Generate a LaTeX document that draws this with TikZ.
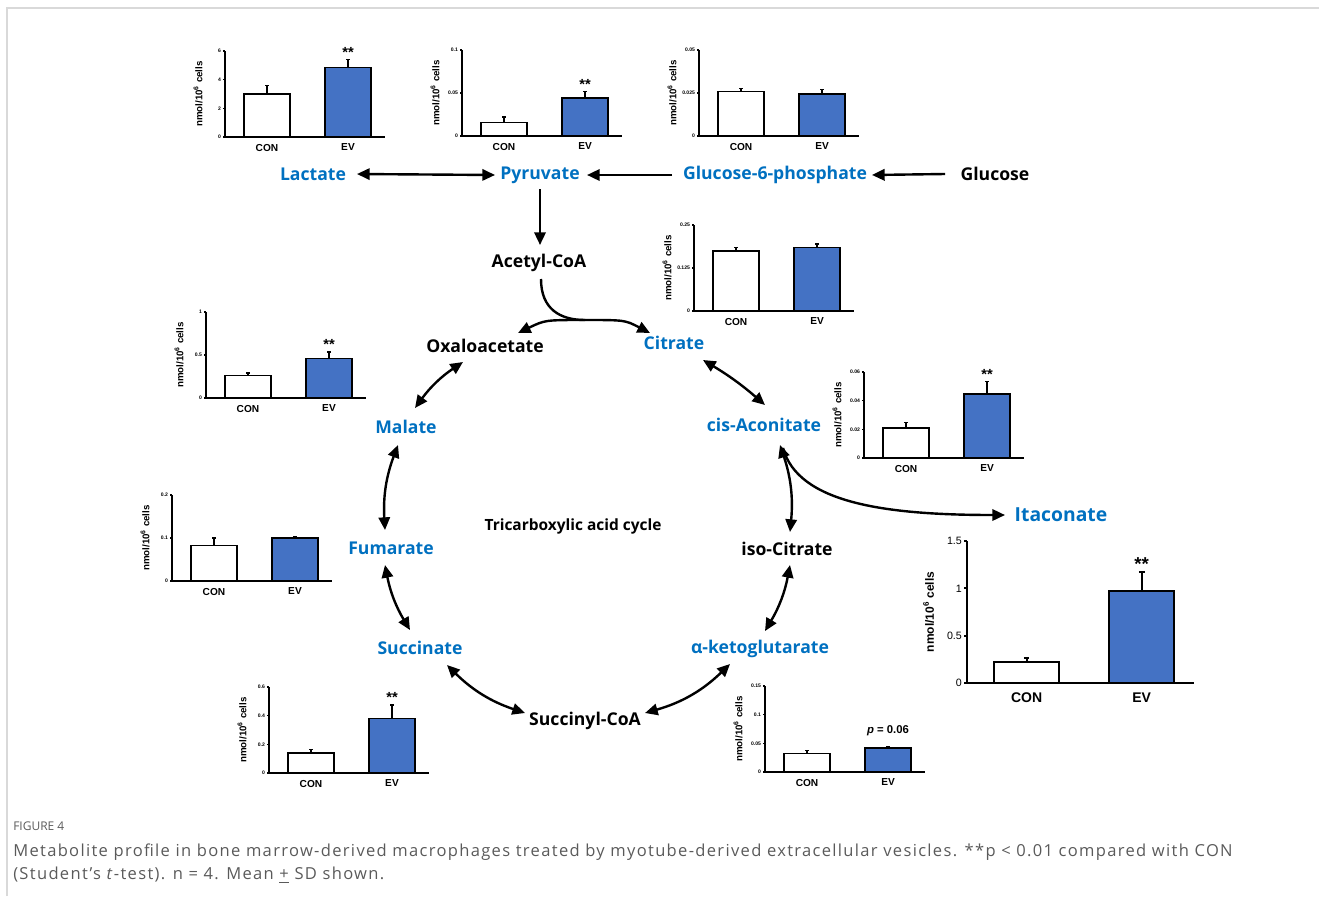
\documentclass[tikz,border=0pt]{standalone}
\usepackage{fontspec}
\setmainfont{Liberation Sans}
\newfontfamily\lblfont{Open Sans}
\newfontfamily\capfont[LetterSpace=8]{Open Sans}
\usetikzlibrary{arrows.meta,calc}

\definecolor{metblue}{HTML}{0070C0}
\definecolor{evblue}{HTML}{4472C4}
\definecolor{capgray}{HTML}{5A5A5A}

\tikzset{
  met/.style = {font=\lblfont\bfseries\fontsize{13.2}{15}\selectfont, text=metblue, inner sep=0pt},
  metk/.style = {met, text=black},
  flow/.style = {line width=1.8pt, >={Triangle[length=9.5pt,width=8.5pt]}, ->},
  flowboth/.style = {flow, <->},
  barbox/.style = {draw, line width=1.1pt, fill=white},
  evbox/.style = {barbox, fill=evblue},
  errline/.style = {line width=1pt},
  axisline/.style = {line width=1.1pt},
  ticklab/.style = {anchor=east, inner sep=1pt, font=\bfseries\fontsize{3.8}{4}\selectfont},
  ylab/.style = {rotate=90, inner sep=0pt, font=\bfseries\fontsize{7.3}{8}\selectfont},
  grplab/.style = {anchor=north, yshift=-5pt, inner sep=0pt, font=\bfseries\fontsize{7.6}{9}\selectfont},
  siglab/.style = {anchor=south, inner sep=1.5pt, font=\bfseries\fontsize{11}{12}\selectfont},
  bigchart/.style = {xscale=1.42, yscale=1.65,
    barbox/.append style={line width=1.5pt},
    axisline/.append style={line width=1.5pt},
    errline/.append style={line width=1.4pt},
    ticklab/.append style={font=\fontsize{8}{9}\selectfont},
    ylab/.append style={font=\bfseries\fontsize{9}{10}\selectfont},
    grplab/.append style={font=\bfseries\fontsize{10.5}{12}\selectfont, yshift=-2pt},
    siglab/.append style={font=\bfseries\fontsize{14}{15}\selectfont}},
}

% #1 extra options, #2 origin, #3 y max, #4 ticks, #5/#6 CON mean/sd, #7/#8 EV mean/sd, #9 mark
\newcommand{\barchart}[9][]{%
  \begin{scope}[shift={#2}, y={(0pt,64.5pt/#3)}, #1]
    \draw[barbox] (19,0) rectangle (65,#5);
    \draw[evbox] (100,0) rectangle (146,#7);
    \draw[errline] (42,#5) -- (42,{#5+#6}) (40,{#5+#6}) -- (44,{#5+#6});
    \draw[errline] (123,#7) -- (123,{#7+#8}) (121,{#7+#8}) -- (125,{#7+#8});
    \draw[axisline] (0,#3) -- (0,0) -- (160,0);
    \foreach \tk in {#4}
      \draw[axisline] (0,\tk) -- (-2,\tk) node[ticklab] {\tk};
    \node[ylab] at (-27,#3/2) {nmol/10\textsuperscript{6} cells};
    \node[grplab] at (42,0) {CON};
    \node[grplab] at (123,0) {EV};
    \node[siglab] at (123,{#7+#8}) {#9};
  \end{scope}}

\begin{document}
\begin{tikzpicture}[x=0.75pt, y=0.75pt]
  \useasboundingbox (0,0) rectangle (1319,-896);
  \draw[gray!30, line width=0.8pt] (7,-896) -- (7,-8) -- (1319,-8);

  % metabolites
  \node[met]  (lac)  at (313,-174) {Lactate};
  \node[met]  (pyr)  at (540,-175) {Pyruvate};
  \node[met]  (g6p)  at (775,-175) {Glucose-6-phosphate};
  \node[metk] (glc)  at (995,-174) {Glucose};
  \node[metk] (acoa) at (539,-263) {Acetyl-CoA};
  \node[metk] (oaa)  at (485,-346) {Oxaloacetate};
  \node[met]  (cit)  at (674,-343) {Citrate};
  \node[met]  (mal)  at (406,-427) {Malate};
  \node[met]  (cisa) at (764,-425) {cis-Aconitate};
  \node[metk, font=\lblfont\bfseries\fontsize{11.6}{14}\selectfont] (tca) at (573,-526) {Tricarboxylic acid cycle};
  \node[met, font=\lblfont\bfseries\fontsize{14.5}{17}\selectfont] (ita) at (1061,-515) {Itaconate};
  \node[met]  (fum)  at (391,-548) {Fumarate};
  \node[metk] (iso)  at (787,-549) {iso-Citrate};
  \node[met]  (suc)  at (420,-648) {Succinate};
  \node[met]  (akg)  at (760,-649) {α-ketoglutarate};
  \node[metk] (scoa) at (585,-721) {Succinyl-CoA};

  % glycolysis
  \draw[flowboth] ($(lac)+(44,0)$) -- ($(pyr)+(-45,0)$);
  \draw[flow] ($(g6p)+(-103,0)$) -- ($(pyr)+(47,0)$);
  \draw[flow] ($(glc)+(-50,0)$) -- ($(g6p)+(97,0)$);
  \draw[flow] ($(pyr)+(0,-14)$) -- ($(acoa)+(1,18)$);

  % acetyl-CoA entry
  \coordinate (jn) at (585,-320);
  \draw[line width=1.8pt] ($(acoa)+(2,-16)$) .. controls +(0,-30) and +(-25,0) .. (jn);
  \draw[flow] (jn) .. controls +(-40,0) .. ($(oaa)+(33,13)$);
  \draw[flow] (jn) .. controls +(40,0) .. ($(cit)+(-24,10)$);

  % cycle
  \draw[flowboth] ($(mal)+(9,19)$) to[bend left=10] ($(oaa)+(-22,-16)$);
  \draw[flowboth] ($(fum)+(-6,18)$) to[bend left=12] ($(mal)+(-8,-18)$);
  \draw[flowboth] ($(suc)+(-10,18)$) to[bend left=10] ($(fum)+(-6,-17)$);
  \draw[flowboth] ($(scoa)+(-60,8)$) to[bend left=13] ($(suc)+(27,-17)$);
  \draw[flowboth] ($(akg)+(-30,-15)$) to[bend left=14] ($(scoa)+(60,8)$);
  \draw[flowboth] ($(iso)+(3,-16)$) to[bend left=10] ($(akg)+(5,18)$);
  \draw[flowboth] ($(cisa)+(16,-20)$) to[bend left=12] ($(iso)+(3,17)$);
  \draw[flowboth] ($(cit)+(29,-17)$) to[bend left=5] ($(cisa)+(1,20)$);
  \draw[flow] ($(cisa)+(19,-23)$) .. controls +(15,-55) and +(-120,0) .. ($(ita)+(-56,0)$);

  % bar charts
  \barchart{(225,-137)}{6}{0,2,4,6}{3.0}{0.6}{4.85}{0.55}{**}
  \barchart{(462,-136)}{0.1}{0,0.05,0.1}{0.016}{0.006}{0.044}{0.008}{**}
  \barchart{(699,-136)}{0.05}{0,0.025,0.05}{0.026}{0.0015}{0.0245}{0.0025}{}
  \barchart{(694,-311)}{0.25}{0,0.125,0.25}{0.175}{0.01}{0.185}{0.01}{}
  \barchart{(206,-398)}{1}{0,0.5,1}{0.26}{0.03}{0.46}{0.075}{**}
  \barchart{(864,-458)}{0.06}{0,0.02,0.04,0.06}{0.021}{0.004}{0.0445}{0.009}{**}
  \barchart{(172,-581)}{0.2}{0,0.1,0.2}{0.082}{0.018}{0.1}{0.002}{}
  \barchart[bigchart]{(967,-683)}{1.5}{0,0.5,1,1.5}{0.22}{0.04}{0.97}{0.2}{**}
  \barchart{(269,-773)}{0.6}{0,0.2,0.4,0.6}{0.14}{0.025}{0.38}{0.095}{**}
  \barchart{(765,-772)}{0.15}{0,0.05,0.1,0.15}{0.032}{0.006}{0.042}{0.002}{\raisebox{8pt}{\fontsize{8.5}{9}\selectfont\textit{p} = 0.06}}

  % caption
  \node[anchor=west, inner sep=0pt, text=capgray, font=\lblfont\fontsize{9}{10}\selectfont] (fig) at (13,-826) {FIGURE 4};
  \node[anchor=west, inner sep=0pt, text=capgray, font=\capfont\fontsize{12.4}{14}\selectfont] (cap1) at (13,-852)
    {Metabolite profile in bone marrow-derived macrophages treated by myotube-derived extracellular vesicles. **p < 0.01 compared with CON};
  \node[anchor=west, inner sep=0pt, text=capgray, font=\capfont\fontsize{12.4}{14}\selectfont] (cap2) at (13,-875)
    {(Student’s \textit{t}-test). n = 4. Mean \underline{+} SD shown.};
\end{tikzpicture}
\end{document}
